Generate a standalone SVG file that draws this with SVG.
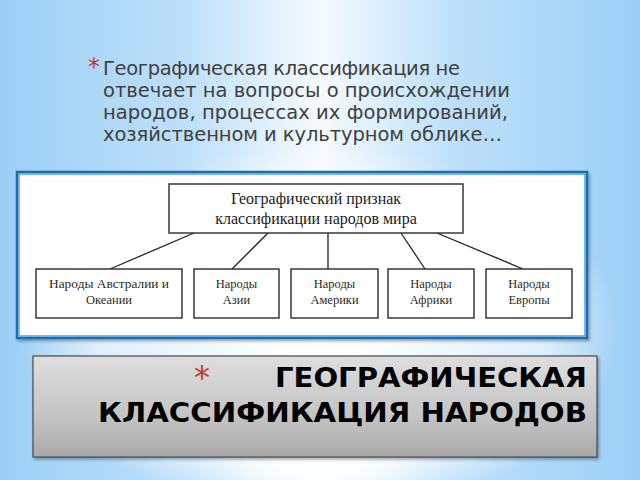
<svg xmlns="http://www.w3.org/2000/svg" width="640" height="480" viewBox="0 0 640 480">
  <defs>
    <linearGradient id="bgH" x1="0" y1="0" x2="1" y2="0">
      <stop offset="0" stop-color="#9ccff6"/>
      <stop offset="0.3" stop-color="#bfe1fa"/>
      <stop offset="0.5" stop-color="#f6fbff"/>
      <stop offset="0.7" stop-color="#bfe1fa"/>
      <stop offset="1" stop-color="#9ccff6"/>
    </linearGradient>
    <radialGradient id="glow" cx="0.5" cy="0.5" r="0.5">
      <stop offset="0" stop-color="#ffffff" stop-opacity="0.95"/>
      <stop offset="0.75" stop-color="#ffffff" stop-opacity="0.6"/>
      <stop offset="1" stop-color="#ffffff" stop-opacity="0"/>
    </radialGradient>
    <radialGradient id="glow2" cx="0.5" cy="0.5" r="0.5">
      <stop offset="0" stop-color="#ffffff" stop-opacity="1"/>
      <stop offset="1" stop-color="#ffffff" stop-opacity="0"/>
    </radialGradient>
    <linearGradient id="grey" x1="0" y1="0" x2="0" y2="1">
      <stop offset="0" stop-color="#dedede"/>
      <stop offset="0.6" stop-color="#c4c4c4"/>
      <stop offset="1" stop-color="#a9a9a9"/>
    </linearGradient>
    <filter id="shadow" x="-5%" y="-5%" width="110%" height="120%">
      <feDropShadow dx="1.5" dy="2" stdDeviation="1.5" flood-color="#000" flood-opacity="0.35"/>
    </filter>
    <style>
      .bullet { font-family: "DejaVu Sans", "Noto Sans", sans-serif; font-size: 19.5px; fill: #404040; }
      .star { fill: #c8382a; }
      .title { font-family: "DejaVu Sans", "Noto Sans", sans-serif; font-size: 26px; font-weight: bold; fill: #000; }
      .box { fill: #ffffff; stroke: #2a2a2a; stroke-width: 1.4; }
      .t1 { font-family: "Liberation Serif", "Times New Roman", serif; font-size: 16px; fill: #1a1a1a; text-anchor: middle; }
      .t2 { font-family: "Liberation Serif", "Times New Roman", serif; font-size: 12.5px; fill: #2b2b20; text-anchor: middle; }
      .conn line { stroke: #222; stroke-width: 1.3; }
    </style>
  </defs>

  <!-- background -->
  <rect x="0" y="0" width="640" height="480" fill="url(#bgH)"/>
  <ellipse cx="320" cy="330" rx="300" ry="185" fill="url(#glow)"/>
  <ellipse cx="320" cy="465" rx="110" ry="30" fill="url(#glow2)"/>

  <!-- bullet text -->
  <g id="bullet">
    <text x="88" y="75" class="star" font-family="DejaVu Sans, sans-serif" font-size="24">*</text>
    <text class="bullet" x="103" y="75" textLength="357" lengthAdjust="spacing">Географическая классификация не</text>
    <text class="bullet" x="103" y="97" textLength="407" lengthAdjust="spacing">отвечает на вопросы о происхождении</text>
    <text class="bullet" x="103" y="119" textLength="405" lengthAdjust="spacing">народов, процессах их формирований,</text>
    <text class="bullet" x="103" y="141" textLength="399" lengthAdjust="spacing">хозяйственном и культурном облике…</text>
  </g>

  <!-- white panel with diagram -->
  <g id="panel">
    <rect x="17" y="172" width="570" height="166" fill="#ffffff" stroke="#1c6cb4" stroke-width="2.5" filter="url(#shadow)"/>
    <rect x="19" y="174" width="566" height="162" fill="none" stroke="#4ea3e2" stroke-width="1.5"/>
  </g>

  <g class="conn" id="connectors">
    <line x1="194" y1="233" x2="110" y2="269"/>
    <line x1="268" y1="233" x2="232" y2="269"/>
    <line x1="328" y1="233" x2="328" y2="269"/>
    <line x1="401" y1="233" x2="425" y2="269"/>
    <line x1="437" y1="233" x2="523" y2="269"/>
  </g>

  <g id="root">
    <rect class="box" x="169" y="184" width="294" height="49"/>
    <text class="t1" x="316" y="204">Географический признак</text>
    <text class="t1" x="316" y="224">классификации народов мира</text>
  </g>

  <g id="n-australia">
    <rect class="box" x="36" y="269" width="146" height="49"/>
    <text class="t2" x="109" y="288" textLength="120" lengthAdjust="spacingAndGlyphs">Народы Австралии и</text>
    <text class="t2" x="109" y="304">Океании</text>
  </g>
  <g id="n-asia">
    <rect class="box" x="194" y="269" width="85" height="49"/>
    <text class="t2" x="236.5" y="288">Народы</text>
    <text class="t2" x="236.5" y="304">Азии</text>
  </g>
  <g id="n-america">
    <rect class="box" x="291" y="269" width="87" height="49"/>
    <text class="t2" x="334.5" y="288">Народы</text>
    <text class="t2" x="334.5" y="304">Америки</text>
  </g>
  <g id="n-africa">
    <rect class="box" x="388" y="269" width="86" height="49"/>
    <text class="t2" x="431" y="288">Народы</text>
    <text class="t2" x="431" y="304">Африки</text>
  </g>
  <g id="n-europe">
    <rect class="box" x="486" y="269" width="86" height="49"/>
    <text class="t2" x="529" y="288">Народы</text>
    <text class="t2" x="529" y="304">Европы</text>
  </g>

  <!-- title bar -->
  <g id="title">
    <rect x="33" y="356" width="564" height="101" fill="url(#grey)" stroke="#4a4a4a" stroke-width="1.2" filter="url(#shadow)"/>
    <text x="202" y="388" class="star" font-family="DejaVu Sans, sans-serif" font-size="32" text-anchor="middle">*</text>
    <text class="title" x="275" y="387" textLength="312" lengthAdjust="spacingAndGlyphs">ГЕОГРАФИЧЕСКАЯ</text>
    <text class="title" x="98" y="422" textLength="489" lengthAdjust="spacingAndGlyphs">КЛАССИФИКАЦИЯ НАРОДОВ</text>
  </g>
</svg>
